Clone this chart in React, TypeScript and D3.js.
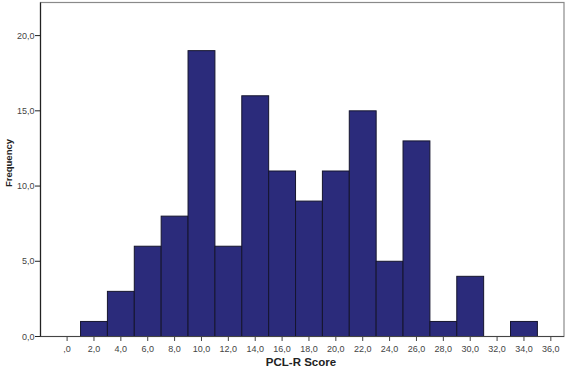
import React from "react";
import * as d3 from "d3";

const binStarts = [1, 3, 5, 7, 9, 11, 13, 15, 17, 19, 21, 23, 25, 27, 29, 31, 33];
const frequencies = [1, 3, 6, 8, 19, 6, 16, 11, 9, 11, 15, 5, 13, 1, 4, 0, 1];
const binWidth = 2;
const xTicks = [0, 2, 4, 6, 8, 10, 12, 14, 16, 18, 20, 22, 24, 26, 28, 30, 32, 34, 36];
const yTicks = [0, 5, 10, 15, 20];

const W = 567, H = 368;
const left = 40.5, right = 564, top = 2.5, bottom = 336.5;

const fmt = (v: number) => (v === 0 ? ",0" : v.toFixed(1).replace(".", ","));
const fmtY = (v: number) => v.toFixed(1).replace(".", ",");

export default function App() {
  const x = d3.scaleLinear().domain([-1.98, 36.98]).range([left, right]);
  const y = d3.scaleLinear().domain([0, 22.2]).range([bottom, top]);
  const font = "Arial, 'Liberation Sans', sans-serif";
  return (
    <svg width={W} height={H} style={{ position: "absolute", left: 0, top: 0, background: "#fff" }}>
      <rect x={left} y={top} width={right - left} height={bottom - top} fill="#fff" stroke="#8a8a8a" strokeWidth={1.2} />
      {binStarts.map((s, i) =>
        frequencies[i] > 0 ? (
          <rect
            key={i}
            x={x(s)}
            y={y(frequencies[i])}
            width={x(s + binWidth) - x(s)}
            height={y(0) - y(frequencies[i])}
            fill="#2b2b7b"
            stroke="#15152e"
            strokeWidth={1}
          />
        ) : null
      )}
      <line x1={left} x2={left} y1={top} y2={bottom} stroke="#222" strokeWidth={1.2} />
      <line x1={left} x2={right} y1={bottom} y2={bottom} stroke="#444" strokeWidth={1.2} />
      {yTicks.map((t) => (
        <g key={t}>
          <line x1={left - 5.5} x2={left} y1={y(t)} y2={y(t)} stroke="#222" />
          <text x={left - 6} y={y(t) + 3.2} textAnchor="end" fontSize={9} fill="#444" fontFamily={font}>
            {fmtY(t)}
          </text>
        </g>
      ))}
      {xTicks.map((t) => (
        <g key={t}>
          <line x1={x(t)} x2={x(t)} y1={bottom} y2={bottom + 4.5} stroke="#444" />
          <text x={x(t)} y={bottom + 15.3} textAnchor="middle" fontSize={9} fill="#444" fontFamily={font}>
            {fmt(t)}
          </text>
        </g>
      ))}
      <text x={301} y={366} textAnchor="middle" fontSize={11.5} fontWeight="bold" fill="#222" fontFamily={font}>
        PCL-R Score
      </text>
      <text
        transform={`translate(11.5, 163) rotate(-90)`}
        textAnchor="middle"
        fontSize={9.5}
        fontWeight="bold"
        fill="#222"
        fontFamily={font}
      >
        Frequency
      </text>
    </svg>
  );
}
